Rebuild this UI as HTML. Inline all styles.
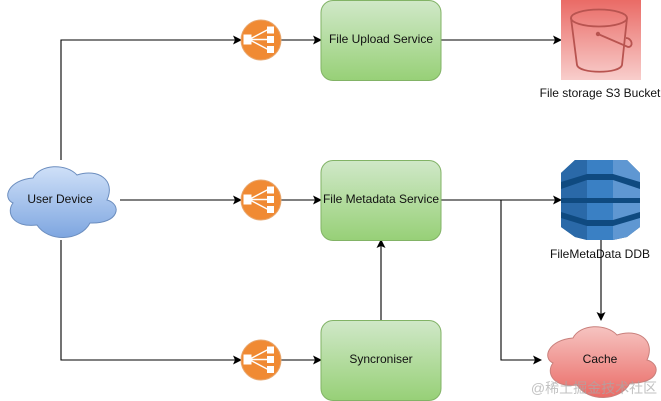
<!DOCTYPE html>
<html>
<head>
<meta charset="utf-8">
<style>
html,body{margin:0;padding:0;background:#fff;width:661px;height:401px;overflow:hidden}
svg{display:block;filter:blur(.35px)}
text{font-family:"Liberation Sans",sans-serif;font-size:12px;fill:#111;text-anchor:middle}
</style>
</head>
<body>
<svg width="661" height="401" viewBox="0 0 661 401" xmlns="http://www.w3.org/2000/svg">
<defs>
<linearGradient id="g" x1="0" y1="0" x2="0" y2="1"><stop offset="0" stop-color="#d0e8c8"/><stop offset="1" stop-color="#97d077"/></linearGradient>
<linearGradient id="b" x1="0" y1="0" x2="0" y2="1"><stop offset="0" stop-color="#cfe0f8"/><stop offset="1" stop-color="#7ea6e0"/></linearGradient>
<linearGradient id="r" x1="0" y1="0" x2="0" y2="1"><stop offset="0" stop-color="#f6c4c1"/><stop offset="1" stop-color="#ea6b66"/></linearGradient>
<linearGradient id="s" x1="0" y1="0" x2="0" y2="1"><stop offset="0" stop-color="#ea6b66"/><stop offset="1" stop-color="#f8cecc"/></linearGradient>
<marker id="a" markerWidth="9" markerHeight="9" refX="8" refY="4.5" orient="auto" markerUnits="userSpaceOnUse"><path d="M0 0L9 4.5L0 9L2 4.5Z" fill="#000"/></marker>
<path id="cloud" d="M33 18C40 4 66 3 77 15C98 8 116 20 107 40C122 44 120 64 90 63C80 82 48 82 37 65C12 68 6 52 13 43C2 38 8 20 33 18Z"/>
<g id="lb">
<circle cx="0" cy="0" r="20" fill="#f08a33" stroke="#e8a76e" stroke-width="1"/>
<path d="M-12 -0.5L8 -11M-12 -0.5H8M-12 -0.5L8 10" stroke="#fff" stroke-width="1.4" fill="none"/>
<rect x="-17.5" y="-5.5" width="8" height="10" fill="#fff"/>
<rect x="6" y="-13.5" width="7" height="7" fill="#fff"/>
<rect x="6" y="-4" width="7" height="7" fill="#fff"/>
<rect x="6" y="6" width="7" height="7" fill="#fff"/>
</g>
</defs>

<!-- connectors -->
<g fill="none" stroke="#000" stroke-width="1.1">
<path d="M61 160V40H241" marker-end="url(#a)"/>
<path d="M120 200H241" marker-end="url(#a)"/>
<path d="M61 240V360H241" marker-end="url(#a)"/>
<path d="M281 40H321" marker-end="url(#a)"/>
<path d="M281 200H321" marker-end="url(#a)"/>
<path d="M281 360H321" marker-end="url(#a)"/>
<path d="M441 40H561" marker-end="url(#a)"/>
<path d="M441 200H561" marker-end="url(#a)"/>
<path d="M501 200V360H541" marker-end="url(#a)"/>
<path d="M381 320V240" marker-end="url(#a)"/>
</g>

<!-- user cloud -->
<use href="#cloud" x="0" y="160" fill="url(#b)" stroke="#6c8ebf" stroke-width="1"/>
<text x="60" y="203">User Device</text>

<!-- load balancers -->
<use href="#lb" x="261" y="40"/>
<use href="#lb" x="261" y="200"/>
<use href="#lb" x="261" y="360"/>

<!-- services -->
<g fill="url(#g)" stroke="#82b366" stroke-width="1">
<rect x="321" y="0.5" width="120" height="80" rx="12"/>
<rect x="321" y="160.5" width="120" height="80" rx="12"/>
<rect x="321" y="320.5" width="120" height="80" rx="12"/>
</g>
<text x="381" y="43">File Upload Service</text>
<text x="381" y="203">File Metadata Service</text>
<text x="381" y="363">Syncroniser</text>

<!-- bucket -->
<rect x="561" y="0" width="80" height="80" fill="url(#s)"/>
<g fill="none" stroke="#b85450" stroke-width="1.8">
<ellipse cx="599" cy="18" rx="28" ry="8.5"/>
<path d="M571 18L577 65C579 74 620 74 622 65L627 18"/>
<path d="M598 34L628 47C634 47 632 38 626 38"/>
</g>
<circle cx="598" cy="34" r="2.2" fill="#b85450"/>
<text x="600" y="97">File storage S3 Bucket</text>

<!-- DynamoDB -->
<path d="M575 160H627L640 173V227L627 237L613 240H587L575 237L561 227V173Z" fill="#0f4a80"/>
<g fill="#2a69a8">
<path d="M575 160H587V174L561 182V173Z"/>
<path d="M561 189L587 180V198H561Z"/>
<path d="M561 203H587V220L561 212Z"/>
<path d="M561 218L587 226V240L575 237L561 227Z"/>
</g>
<g fill="#3a80c4">
<path d="M587 160H613V174H587Z"/>
<path d="M587 180H613V198H587Z"/>
<path d="M587 203H613V220H587Z"/>
<path d="M587 226H613V240H587Z"/>
</g>
<g fill="#5f97d2">
<path d="M613 160H627L640 173V182L613 174Z"/>
<path d="M613 180L640 189V198H613Z"/>
<path d="M613 203H640V212L613 220Z"/>
<path d="M613 226L640 218V227L627 237L613 240Z"/>
</g>
<text x="600" y="258">FileMetaData DDB</text>
<path d="M601 240V320" stroke="#000" stroke-width="1.1" fill="none" marker-end="url(#a)"/>

<!-- cache -->
<use href="#cloud" x="540" y="320" fill="url(#r)" stroke="#c9807c" stroke-width="1"/>
<text x="600" y="363">Cache</text>

<!-- watermark -->
<text x="594" y="393" style="font-family:'Liberation Sans','Noto Sans CJK SC',sans-serif;font-size:14px;fill:#a8a8a8;fill-opacity:.7">@稀土掘金技术社区</text>
</svg>
</body>
</html>
